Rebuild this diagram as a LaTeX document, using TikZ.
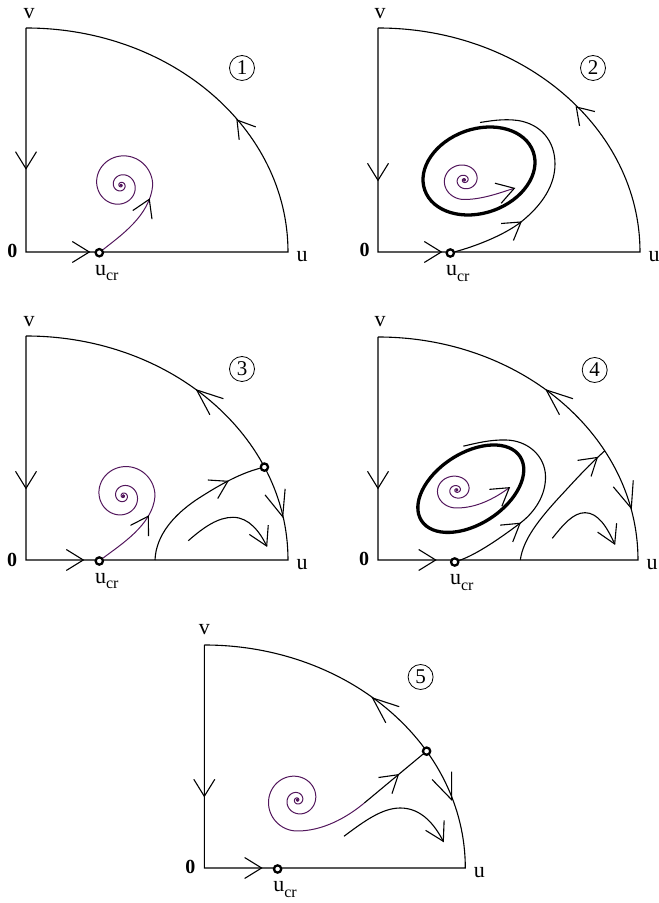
\documentclass[tikz,border=0pt]{standalone}
\usepackage{fontspec}
\setmainfont{Liberation Serif}
\definecolor{spcol}{RGB}{82,22,92}
\tikzset{
  declare function={sf(\q)=sqrt(\q*\q+9.8696)-3.1416;},
  pics/vh/.style={code={\draw (-#1,10.5) -- (0,0) -- (-#1,-10.5);}},
  pics/vh/.default=17,
  lbl/.style={font=\fontsize{22}{22}\selectfont, inner sep=0},
  zero/.style={font=\fontsize{20}{20}\selectfont\bfseries, inner sep=0},
  num/.style={circle, draw, line width=0.8, minimum size=25, inner sep=0, font=\fontsize{21}{21}\selectfont},
  ucrc/.style={circle, draw, line width=2.3, fill=white, minimum size=7.3, inner sep=0},
  spir/.style={draw=spcol, line width=1.0},
  cyc/.style={line width=3.3},
}
\begin{document}
\begin{tikzpicture}[x=1pt,y=1pt,line width=1.1pt,line join=miter]
\useasboundingbox (0,0) rectangle (659,903);

% ---------- Panel 1
\begin{scope}[shift={(26,651)}]
\draw (0,224) -- (0,0) -- (262,0) arc[start angle=0,end angle=90,x radius=262,y radius=224];
\pic[rotate=-90] at (0,83.3) {vh};
\pic at (63.3,0) {vh};
\pic[rotate=128] at (211,132) {vh};
\node[ucrc] (c1) at (73.3,-0.7) {};
\draw[spir] (c1) .. controls (93.3,15.5) and (124,36) .. (126.7,66.7)
  -- plot[domain=0:1260,samples=300,smooth,variable=\t] ({95+31.7*exp(-0.211*sf(\t/57.2958))*cos(\t)},{66.7+31.7*exp(-0.211*sf(\t/57.2958))*sin(\t)});
\fill[spcol] (95,66.7) circle (1.7);
\pic[rotate=66] at (123.3,52.7) {vh};
\node[lbl] (v1) at (3,238) {v};
\node[zero] (o1) at (-13.5,1) {0};
\node[lbl] (u1) at (276,-5) {u};
\node[lbl,anchor=base west] (l1) at (68.5,-23.5) {u\raisebox{-5.5pt}{\fontsize{16}{16}\selectfont cr}};
\node[num] (n1) at (216,184) {1};
\end{scope}

% ---------- Panel 2
\begin{scope}[shift={(378,651)}]
\draw (0,224) -- (0,0) -- (262,0) arc[start angle=0,end angle=90,x radius=262,y radius=224];
\pic[rotate=-90] at (0,71.7) {vh};
\pic at (63.3,0) {vh};
\pic[rotate=133] at (198.3,145) {vh=16};
\node[ucrc] (c2) at (72.3,-1) {};
\draw[cyc, rotate around={19.5:(101,81)}] (101,81) ellipse [x radius=57.5, y radius=42];
\draw[spir] plot[domain=1100:0,samples=260,smooth,variable=\t] ({86.3+21.45*exp(-0.211*sf(\t/57.2958))*cos(270-\t)},{72+19.5*exp(-0.211*sf(\t/57.2958))*sin(270-\t)})
  .. controls (105,52.5) and (124,60) .. (136.3,63.7);
\fill[spcol] (86.3,72) circle (1.7);
\pic[rotate=17] at (136.3,63.7) {vh};
\draw (c2) .. controls (95,5) and (125,16) .. (143,30) .. controls (158,42) and (177,62) .. (177,88)
  .. controls (177,112) and (162,128) .. (140,131.5) .. controls (125,133.5) and (112,131) .. (102,129.5);
\pic[rotate=36] at (143,30) {vh};
\node[lbl] (v2) at (2,238) {v};
\node[zero] (o2) at (-13.5,2) {0};
\node[lbl] (u2) at (276,-5) {u};
\node[lbl,anchor=base west] (l2) at (67.5,-24) {u\raisebox{-5.5pt}{\fontsize{16}{16}\selectfont cr}};
\node[num] (n2) at (215,184) {2};
\end{scope}

% ---------- Panel 3
\begin{scope}[shift={(26,343)}]
\draw (0,224) -- (0,0) -- (262,0) arc[start angle=0,end angle=90,x radius=262,y radius=224];
\pic[rotate=-90] at (0,71.7) {vh};
\pic at (57.3,0) {vh};
\pic[rotate=140] at (170.7,170) {vh=26};
\pic[rotate=-73] at (256.7,43.3) {vh=26};
\node[ucrc] (c3) at (73.3,-1) {};
\draw[spir] (c3) .. controls (93.3,14.5) and (127,35) .. (129,64)
  -- plot[domain=0:1260,samples=300,smooth,variable=\t] ({97.3+31.7*exp(-0.211*sf(\t/57.2958))*cos(\t)},{64+31.7*exp(-0.211*sf(\t/57.2958))*sin(\t)});
\fill[spcol] (97.3,64) circle (1.7);
\pic[rotate=59] at (122.3,43.8) {vh};
\node[ucrc] (s3) at (24.5:262 and 224) {};
\coordinate (a3) at (129,0);
\draw (a3) .. controls (130,25) and (148,45) .. (170,60) .. controls (190,73) and (212,86) .. (s3);
\pic[rotate=28] at (201.8,78.7) {vh};
\draw (162.3,19.3) .. controls (178,33) and (192,42.7) .. (207,42.7) .. controls (223,42.7) and (234,28) .. (240.7,14);
\pic[rotate=-64] at (240.7,14) {vh=18};
\node[lbl] (v3) at (3,238) {v};
\node[zero] (o3) at (-14,0) {0};
\node[lbl] (u3) at (276,-5) {u};
\node[lbl,anchor=base west] (l3) at (68.5,-23.5) {u\raisebox{-5.5pt}{\fontsize{16}{16}\selectfont cr}};
\node[num] (n3) at (216,191) {3};
\end{scope}

% ---------- Panel 4
\begin{scope}[shift={(378,343)}]
\draw (0,223) -- (0,0) -- (260,0) arc[start angle=0,end angle=90,x radius=260,y radius=223];
\pic[rotate=-90] at (0,71.7) {vh};
\pic at (57.7,0) {vh};
\pic[rotate=140] at (168.3,170) {vh=26};
\pic[rotate=-72] at (253.3,51.7) {vh=26};
\node[ucrc] (c4) at (76.7,-2) {};
\draw[cyc, rotate around={33:(92.8,71.3)}] (92.8,71.3) ellipse [x radius=58.8, y radius=35.5];
\draw[spir] plot[domain=1100:0,samples=260,smooth,variable=\t] ({78.7+20.7*exp(-0.211*sf(\t/57.2958))*cos(270-\t)},{70+18*exp(-0.211*sf(\t/57.2958))*sin(270-\t)})
  .. controls (98,52) and (116,61) .. (131.3,72.3);
\fill[spcol] (78.7,70) circle (1.7);
\pic[rotate=36.5] at (131.3,72.3) {vh};
\draw (c4) .. controls (100,6) and (125,24) .. (142,36.7) .. controls (157,48) and (168,65) .. (167.5,84)
  .. controls (167,104) and (150,119.5) .. (128,120) .. controls (112,120.5) and (97,116.5) .. (85.3,113.8);
\pic[rotate=37] at (142,36.7) {vh};
\coordinate (a4) at (142.3,0);
\coordinate (e4) at (29.3:260 and 223);
\draw (a4) .. controls (145,20) and (160,40) .. (185,66.7) .. controls (200,83) and (212,96) .. (e4);
\pic[rotate=40] at (219.3,102.5) {vh};
\draw (174.3,21.7) .. controls (185,35) and (195,47.3) .. (207,47.3) .. controls (220,47.3) and (229,33) .. (236.7,16);
\pic[rotate=-65] at (236.7,16) {vh=18};
\node[lbl] (v4) at (2,238) {v};
\node[zero] (o4) at (-14,1) {0};
\node[lbl] (u4) at (274,-5) {u};
\node[lbl,anchor=base west] (l4) at (71.5,-25) {u\raisebox{-5.5pt}{\fontsize{16}{16}\selectfont cr}};
\node[num] (n4) at (216.7,190) {4};
\end{scope}

% ---------- Panel 5
\begin{scope}[shift={(204.3,35)}]
\draw (0,223) -- (0,0) -- (261,0) arc[start angle=0,end angle=90,x radius=261,y radius=223];
\pic[rotate=-90] at (0,71.7) {vh};
\pic at (57.3,0) {vh};
\pic[rotate=140] at (168.3,170) {vh=26};
\pic[rotate=-68] at (247.3,68.3) {vh=26};
\node[ucrc] (c5) at (73.3,-1) {};
\node[ucrc] (s5) at (31.6:261 and 223) {};
\coordinate (m5) at (160,65);
\draw[spir] plot[domain=1260:0,samples=300,smooth,variable=\t] ({93+31*exp(-0.211*sf(\t/57.2958))*cos(270-\t)},{68+31*exp(-0.211*sf(\t/57.2958))*sin(270-\t)})
  .. controls (118,37) and (142,50) .. (m5);
\fill[spcol] (93,68) circle (1.7);
\draw (m5) -- (s5);
\pic[rotate=39.8] at (194,93.3) {vh};
\draw (139.7,31.7) .. controls (160,47) and (178,60) .. (196,60) .. controls (218,60) and (231,42) .. (239,26.7);
\pic[rotate=-62] at (239,26.7) {vh=18};
\node[lbl] (v5) at (0,238) {v};
\node[zero] (o5) at (-14,1) {0};
\node[lbl] (u5) at (275,-5) {u};
\node[lbl,anchor=base west] (l5) at (68.5,-23.5) {u\raisebox{-5.5pt}{\fontsize{16}{16}\selectfont cr}};
\node[num] (n5) at (216.3,191) {5};
\end{scope}
\end{tikzpicture}
\end{document}
